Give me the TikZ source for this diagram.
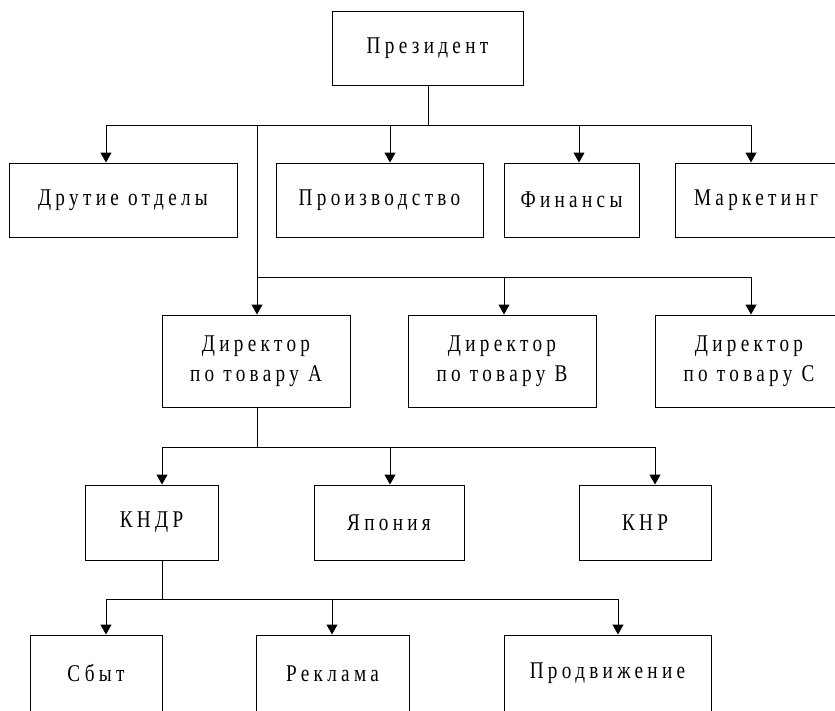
\documentclass[tikz,border=0pt]{standalone}
\usepackage{fontspec}
\setmainfont{Liberation Serif}[FakeStretch=0.8, LetterSpace=18]
\usetikzlibrary{arrows.meta}
\tikzset{
  box/.style={draw, line width=1pt, inner sep=0pt, align=center,
    font=\fontsize{24}{30}\selectfont, anchor=center},
  conn/.style={line width=1pt},
  arr/.style={line width=1pt, -{Triangle[width=11pt,length=10pt]}},
}
\begin{document}
\begin{tikzpicture}[x=1pt,y=-1pt]
\useasboundingbox (0,0) rectangle (835,710);
\clip (0,0) rectangle (835,710);
% boxes
\node[box, minimum width=191pt, minimum height=74pt] (pres) at (427.5,48) {Президент};
\node[box, minimum width=228pt, minimum height=74pt] (other) at (123,200) {Друтие отделы};
\node[box, minimum width=207pt, minimum height=74pt] (prod) at (379.5,200) {Производство};
\node[box, minimum width=135pt, minimum height=74pt] (fin) at (571.5,200) {Финансы};
\node[box, minimum width=162pt, minimum height=74pt] (mkt) at (756,200) {Маркетинг};
\node[box, minimum width=188pt, minimum height=92pt] (dirA) at (256,361) {Директор\\по товару А};
\node[box, minimum width=188pt, minimum height=92pt] (dirB) at (502,361) {Директор\\по товару В};
\node[box, minimum width=188pt, minimum height=92pt] (dirC) at (749,361) {Директор\\по товару С};
\node[box, minimum width=133pt, minimum height=75pt] (kndr) at (151.5,522.5) {КНДР};
\node[box, minimum width=150pt, minimum height=75pt] (jap) at (389,522.5) {Япония};
\node[box, minimum width=132pt, minimum height=75pt] (knr) at (645,522.5) {КНР};
\node[box, minimum width=132pt, minimum height=77pt] (sbyt) at (96,673.5) {Сбыт};
\node[box, minimum width=153pt, minimum height=77pt] (rekl) at (332.5,673.5) {Реклама};
\node[box, minimum width=207pt, minimum height=77pt] (prom) at (607.5,673.5) {Продвижение};
% bus 1
\coordinate (p1) at (428,125);
\coordinate (a1) at (106,125);
\coordinate (a2) at (390,125);
\coordinate (a3) at (579,125);
\coordinate (a4) at (751,125);
\coordinate (v1) at (257,125);
\draw[conn] (pres.south -| p1) -- (p1);
\draw[conn] (a1) -- (a4);
\draw[arr] (a1) -- (a1 |- other.north);
\draw[arr] (a2) -- (a2 |- prod.north);
\draw[arr] (a3) -- (a3 |- fin.north);
\draw[arr] (a4) -- (a4 |- mkt.north);
% bus 2
\coordinate (b1) at (257,277);
\coordinate (b2) at (504,277);
\coordinate (b3) at (751,277);
\draw[conn] (v1) -- (b1) -- (b3);
\draw[arr] (b1) -- (b1 |- dirA.north);
\draw[arr] (b2) -- (b2 |- dirB.north);
\draw[arr] (b3) -- (b3 |- dirC.north);
% bus 3
\coordinate (c0) at (257,447);
\coordinate (c1) at (162,447);
\coordinate (c2) at (390,447);
\coordinate (c3) at (655,447);
\draw[conn] (dirA.south -| c0) -- (c0);
\draw[conn] (c1) -- (c3);
\draw[arr] (c1) -- (c1 |- kndr.north);
\draw[arr] (c2) -- (c2 |- jap.north);
\draw[arr] (c3) -- (c3 |- knr.north);
% bus 4
\coordinate (d0) at (162,599);
\coordinate (d1) at (106,599);
\coordinate (d2) at (332,599);
\coordinate (d3) at (618,599);
\draw[conn] (kndr.south -| d0) -- (d0);
\draw[conn] (d1) -- (d3);
\draw[arr] (d1) -- (d1 |- sbyt.north);
\draw[arr] (d2) -- (d2 |- rekl.north);
\draw[arr] (d3) -- (d3 |- prom.north);
\end{tikzpicture}
\end{document}
